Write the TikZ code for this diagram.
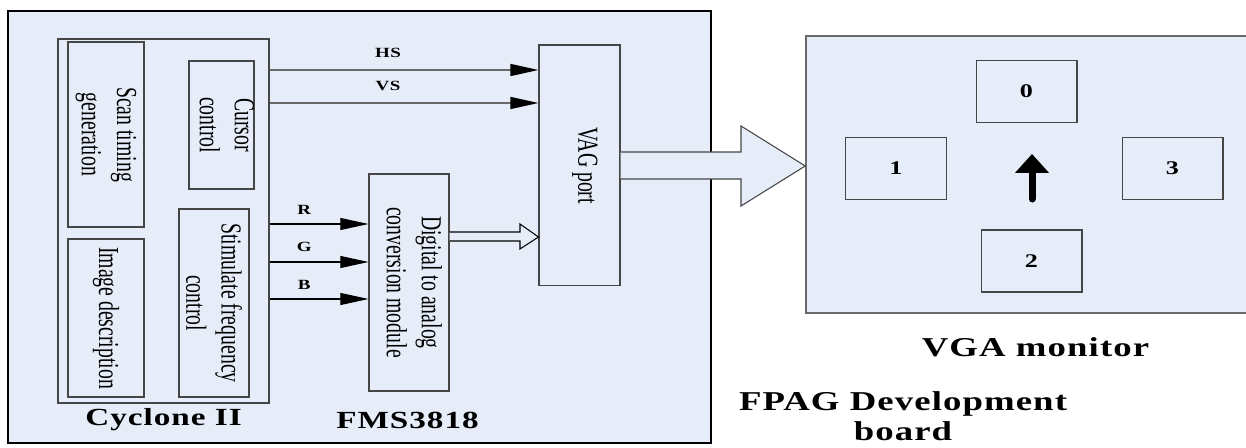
\documentclass[tikz,border=0pt]{standalone}
\usepackage{fontspec}
\setmainfont{Liberation Serif}
\newfontfamily\narrowfont[FakeStretch=0.68]{Liberation Serif}
\newfontfamily\widefont[FakeStretch=1.35,LetterSpace=4]{Liberation Serif Bold}
\usetikzlibrary{arrows.meta}
\definecolor{panelblue}{RGB}{230,237,248}
\definecolor{boxline}{RGB}{70,70,70}
\definecolor{wireline}{RGB}{105,105,105}
\tikzset{
  blk/.style={draw=boxline, fill=panelblue, line width=0.6pt, inner sep=0pt},
  vtxt/.style={rotate=-90, align=center, inner sep=0pt, font=\narrowfont\fontsize{16.5}{20}\selectfont},
  numbox/.style={blk, minimum width=2.02cm, minimum height=1.24cm, font=\widefont\fontsize{11}{12}\selectfont},
  sig/.style={draw=wireline, line width=0.9pt, -{Triangle[length=16pt,width=6.8pt,color=black]}},
  rgb/.style={draw=black, line width=0.6pt, -{Triangle[length=16pt,width=6.8pt]}},
  tag/.style={font=\widefont\fontsize{8}{9}\selectfont},
  title/.style={font=\widefont\fontsize{14}{16}\selectfont},
  bigtitle/.style={font=\widefont\fontsize{15.5}{17}\selectfont, align=center},
}
\begin{document}
\begin{tikzpicture}[x=0.02cm, y=-0.02cm]
  \useasboundingbox (0,0) rectangle (1246,448);
  \fill[white] (0,0) rectangle (1246,448);
  % FPGA board
  \node[blk, draw=black, line width=0.8pt, minimum width=14.06cm, minimum height=8.64cm] (fms) at (359.5,227) {};
  \node[blk, line width=0.8pt, minimum width=4.22cm, minimum height=7.28cm] (cyc) at (163.5,221) {};
  \node[blk, minimum width=1.52cm, minimum height=3.7cm] (scan) at (106,134.5) {};
  \node[vtxt] (scan-t) at (scan) {Scan timing\\generation};
  \node[blk, minimum width=1.52cm, minimum height=3.16cm] (img) at (106,318) {};
  \node[vtxt] (img-t) at (img) {Image description};
  \node[blk, minimum width=1.3cm, minimum height=2.56cm] (cur) at (221.5,125) {};
  \node[vtxt] (cur-t) at ([xshift=3pt]cur.center) {Cursor\\control};
  \node[blk, minimum width=1.4cm, minimum height=3.76cm] (stim) at (214,303) {};
  \node[vtxt] (stim-t) at (stim) {Stimulate frequency\\control};
  \node[blk, minimum width=1.6cm, minimum height=4.34cm] (dac) at (409,282.5) {};
  \node[vtxt] (dac-t) at ([xshift=3pt]dac.center) {Digital to analog\\conversion module};
  \node[blk, minimum width=1.62cm, minimum height=4.82cm] (vag) at (579.5,165.5) {};
  \node[vtxt] (vag-t) at ([xshift=3pt]vag.center) {VAG port};
  % sync and colour lines
  \draw[sig] (cyc.east |- 0,70) -- (vag.west |- 0,70) node[tag, pos=0.44, above=3pt] (hs) {HS};
  \draw[sig] (cyc.east |- 0,103) -- (vag.west |- 0,103) node[tag, pos=0.44, above=3pt] (vs) {VS};
  \draw[rgb] (cyc.east |- 0,224) -- (dac.west |- 0,224) node[tag, pos=0.35, above=2pt] (r) {R};
  \draw[rgb] (cyc.east |- 0,262) -- (dac.west |- 0,262) node[tag, pos=0.35, above=2pt] (g) {G};
  \draw[rgb] (cyc.east |- 0,299) -- (dac.west |- 0,299) node[tag, pos=0.35, above=2pt] (b) {B};
  \draw[fill=panelblue, line width=0.6pt] (dac.east |- 0,232) -- (520,232) -- (520,224) -- (vag.west |- 0,237)
    -- (520,249) -- (520,241) -- (dac.east |- 0,241);
  % monitor
  \node[blk, draw=wireline, line width=0.9pt, minimum width=9.12cm, minimum height=5.54cm] (mon) at (1034,174.5) {};
  \draw[fill=panelblue, draw=boxline, line width=0.6pt] (vag.east |- 0,152) -- (741,152) -- (741,126) -- (mon.west |- 0,166)
    -- (741,206) -- (741,179) -- (vag.east |- 0,179);
  \node[numbox] (n0) at (1026.5,91.5) {0};
  \node[numbox] (n1) at (896,168.5) {1};
  \node[numbox] (n3) at (1172.5,168.5) {3};
  \node[numbox] (n2) at (1031.5,261) {2};
  \draw[line width=4pt, line cap=round, -{Triangle[length=0.38cm,width=0.66cm]}] (1032,199) -- (1032,154);
  % captions
  \node[title] (cyc-l) at (163.5,420) {Cyclone II};
  \node[title] (fms-l) at (407.5,420) {FMS3818};
  \node[bigtitle] (mon-l) at (1035.5,347) {VGA monitor};
  \node[bigtitle] (brd-l) at (903,416) {FPAG Development\\board};
\end{tikzpicture}
\end{document}
